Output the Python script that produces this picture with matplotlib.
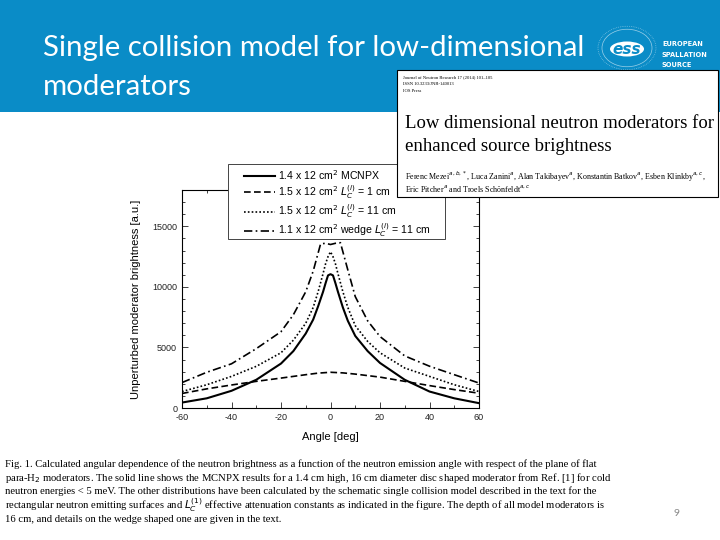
import matplotlib
matplotlib.use("Agg")
import matplotlib.pyplot as plt
from matplotlib.patches import Rectangle, Circle, Ellipse
from matplotlib.ticker import MultipleLocator

plt.rcParams["axes.unicode_minus"] = False

# angle [deg]
angle = [-60, -50, -40, -30, -20, -15, -10, -7, -5, -3, -2, -1, 0,
         1, 2, 3, 5, 7, 10, 15, 20, 30, 40, 50, 60]
# 1.4 x 12 cm2 MCNPX (solid)
mcnpx = [450, 800, 1420, 2330, 3670, 4700, 6150, 7300, 8400, 9600, 10300, 10950, 11050,
         10950, 10300, 9600, 8300, 7200, 5950, 4700, 3720, 2330, 1360, 800, 400]
# 1.5 x 12 cm2, L = 1 cm (dashed)
ang_l1 = [-60, -50, -40, -30, -20, -10, -5, 0, 5, 10, 20, 30, 40, 50, 60]
model_l1 = [1200, 1580, 1900, 2200, 2470, 2750, 2880, 2950, 2900, 2800, 2550, 2200, 1850, 1520, 1220]
# 1.5 x 12 cm2, L = 11 cm (dotted)
model_l11 = [1360, 1920, 2610, 3440, 4560, 5600, 7000, 8300, 9600, 11100, 11900, 12500, 12900,
             12500, 11900, 11100, 9600, 8300, 6800, 5500, 4560, 3300, 2610, 1920, 1360]
# 1.1 x 12 cm2 wedge, L = 11 cm (dash-dot)
ang_wedge = [-60, -50, -40, -30, -20, -15, -10, -7, -5, -4, -2, 0, 2, 4, 5, 7, 10, 15, 20, 30, 40, 50, 60]
wedge = [2100, 2950, 3650, 4900, 6300, 7700, 9600, 11300, 12800, 13550, 13600, 13500, 13600, 13650,
         12900, 11400, 9200, 7200, 5900, 4300, 3450, 2750, 2060]

labels = [r"1.4 x 12 cm$^2$ MCNPX",
          r"1.5 x 12 cm$^2$ $L_C^{(i)}$ = 1 cm",
          r"1.5 x 12 cm$^2$ $L_C^{(i)}$ = 11 cm",
          r"1.1 x 12 cm$^2$ wedge $L_C^{(i)}$ = 11 cm"]

caption = [
    "Fig. 1. Calculated angular dependence of the neutron brightness as a function of the neutron emission angle with respect of the plane of flat",
    r"para-H$_2$ moderators. The solid line shows the MCNPX results for a 1.4 cm high, 16 cm diameter disc shaped moderator from Ref. [1] for cold",
    "neutron energies < 5 meV. The other distributions have been calculated by the schematic single collision model described in the text for the",
    r"rectangular neutron emitting surfaces and $L_C^{(1)}$ effective attenuation constants as indicated in the figure. The depth of all model moderators is",
    "16 cm, and details on the wedge shaped one are given in the text.",
]

W, H = 720, 540
fig = plt.figure(figsize=(7.2, 5.4), dpi=100)
fig.patch.set_facecolor("white")

def fx(x):
    return x / W

def fy(y):
    return 1 - y / H

blue = "#0a8cc7"

# header band
fig.add_artist(Rectangle((0, fy(112)), 1, 112 / H, transform=fig.transFigure,
                         facecolor=blue, edgecolor="none", zorder=0))
fig.text(fx(43), fy(48), "Single collision model for low-dimensional", color="white",
         fontsize=21.2, family="Lato", va="center", ha="left")
fig.text(fx(43), fy(87), "moderators", color="white",
         fontsize=21.2, family="Lato", va="center", ha="left")

# ESS logo
for r, ls in [(29, ":"), (25, "-")]:
    fig.add_artist(Circle((fx(627), fy(48)), r / W, transform=fig.transFigure,
                          facecolor="none", edgecolor="white", lw=0.5, ls=ls, alpha=0.6, zorder=2))
fig.add_artist(Ellipse((fx(627), fy(49)), 34 / W, 15 / H, transform=fig.transFigure,
                       facecolor="white", edgecolor="none", zorder=3))
fig.text(fx(627), fy(49), "ess", color=blue, fontsize=11, weight="bold", style="italic",
         ha="center", va="center", zorder=4)
for txt, yy in [("EUROPEAN", 44), ("SPALLATION", 55), ("SOURCE", 65)]:
    fig.text(fx(662), fy(yy), txt, color="white", fontsize=4.8, weight="bold",
             ha="left", va="center", zorder=4)

# chart
ax = fig.add_axes([fx(182), fy(408), fx(479) - fx(182), (408 - 190) / H])
ax.plot(angle, mcnpx, color="black", lw=1.5, ls="-", label=labels[0])
ax.plot(ang_l1, model_l1, color="black", lw=1.2, ls=(0, (4, 2)), label=labels[1])
ax.plot(angle, model_l11, color="black", lw=1.2, ls=(0, (1, 1.3)), label=labels[2])
ax.plot(ang_wedge, wedge, color="black", lw=1.2, ls=(0, (5, 2, 1, 2)), label=labels[3])
ax.set_xlim(-60, 60)
ax.set_ylim(0, 18000)
ax.xaxis.set_major_locator(MultipleLocator(20))
ax.xaxis.set_minor_locator(MultipleLocator(10))
ax.yaxis.set_major_locator(MultipleLocator(5000))
ax.yaxis.set_minor_locator(MultipleLocator(1000))
ax.tick_params(which="both", direction="in", top=True, right=True, labelsize=6.5,
               width=0.6, colors="#222222")
ax.tick_params(which="major", length=4)
ax.tick_params(which="minor", length=2.5)
for lab in ax.get_xticklabels() + ax.get_yticklabels():
    lab.set_family("Liberation Sans")
for s in ax.spines.values():
    s.set_linewidth(0.8)
ax.set_xlabel("Angle [deg]", fontsize=8, family="Liberation Sans", labelpad=7)
ax.set_ylabel("Unperturbed moderator brightness [a.u.]", fontsize=8,
              family="Liberation Sans", labelpad=8)

# legend box (wider than its text, partly hidden by the paper inset)
ax.add_patch(Rectangle((fx(228), fy(239)), (445 - 228) / W, (239 - 164) / H,
                       transform=fig.transFigure, facecolor="white", edgecolor="#444444",
                       lw=0.7, clip_on=False, zorder=4))
leg = ax.legend(loc="upper left", bbox_to_anchor=(fx(242), fy(166)),
                bbox_transform=fig.transFigure, prop={"family": "Liberation Sans", "size": 7.6},
                frameon=False, handlelength=2.9, handletextpad=0.3, labelspacing=0.12,
                borderpad=0.2, borderaxespad=0)
leg.set_zorder(5)

# paper header inset
fig.add_artist(Rectangle((fx(397), fy(197)), (718 - 397) / W, (197 - 70) / H,
                         transform=fig.transFigure, facecolor="white", edgecolor="black",
                         lw=0.8, zorder=10))
serif = "Liberation Serif"
for txt, yy in [("Journal of Neutron Research 17 (2014) 101\u2013105", 77),
                ("ISSN 10.3233/JNR-140013", 84), ("IOS Press", 91)]:
    fig.text(fx(403), fy(yy), txt, fontsize=3.3, family=serif, va="center", zorder=11)
fig.text(fx(405), fy(124), "Low dimensional neutron moderators for", fontsize=13.5,
         family=serif, va="center", zorder=11)
fig.text(fx(405), fy(147), "enhanced source brightness", fontsize=13.5,
         family=serif, va="center", zorder=11)
fig.text(fx(405), fy(177), r"Ferenc Mezei$^{a,b,*}$, Luca Zanini$^{a}$, Alan Takibayev$^{a}$, "
         r"Konstantin Batkov$^{a}$, Esben Klinkby$^{a,c}$,", fontsize=5.8, family=serif,
         va="center", zorder=11)
fig.text(fx(405), fy(189), "Eric Pitcher$^{a}$ and Troels Sch\u00f6nfeldt$^{a,c}$",
         fontsize=5.8, family=serif, va="center", zorder=11)

# caption
for i, line in enumerate(caption):
    fig.text(fx(5), fy(464 + i * 13.8), line, fontsize=7.68, family=serif, va="center")

fig.text(fx(673), fy(514), "9", fontsize=7.5, color="#888888", family="Lato", va="center")

fig.savefig("out.png", dpi=100)
